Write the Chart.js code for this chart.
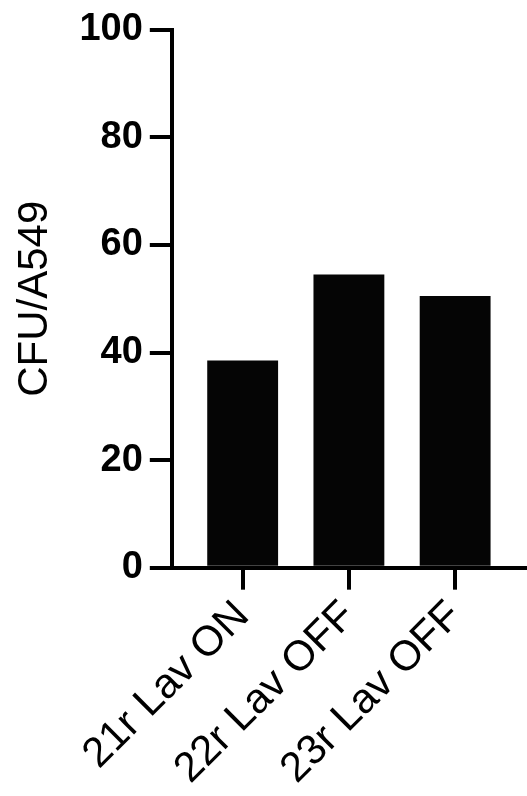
<!DOCTYPE html>
<html>
<head>
<meta charset="utf-8">
<script src="https://cdn.jsdelivr.net/npm/chart.js@4"></script>
<style>
  html, body { margin: 0; padding: 0; background: #fff; }
  #wrap { width: 527px; height: 796px; }
</style>
</head>
<body>
<div id="wrap"><canvas id="myChart"></canvas></div>
<script>
// datos
const categorias = ["21r Lav ON", "22r Lav OFF", "23r Lav OFF"];
const valores = [38.5, 54.5, 50.5];
const yTicks = [0, 20, 40, 60, 80, 100];
const yTitulo = "CFU/A549";

const puntos = valores.map((v, i) => ({ x: i, y: v }));
const fuente = "'Liberation Sans', Arial, Helvetica, sans-serif";

new Chart(document.getElementById("myChart"), {
  type: "bar",
  data: {
    datasets: [
      {
        data: puntos,
        backgroundColor: "#050505",
        borderWidth: 0,
        barPercentage: 0.667,
        categoryPercentage: 1,
      },
    ],
  },
  options: {
    responsive: true,
    maintainAspectRatio: false,
    animation: false,
    layout: { padding: { top: 7, left: 10, right: 1, bottom: 0 } },
    plugins: { legend: { display: false }, tooltip: { enabled: false } },
    scales: {
      x: {
        type: "linear",
        min: -0.667,
        max: 2.667,
        offset: false,
        afterBuildTicks: (axis) => {
          axis.ticks = categorias.map((c, i) => ({ value: i }));
        },
        border: { display: true, color: "#000", width: 4 },
        grid: { offset: false, drawOnChartArea: false, color: "#000", lineWidth: 4, tickLength: 22 },
        ticks: {
          autoSkip: false,
          minRotation: 45,
          maxRotation: 45,
          padding: 2,
          color: "#000",
          font: { family: fuente, size: 42 },
          callback: (v) => categorias[v],
        },
      },
      y: {
        min: 0,
        max: 100,
        afterBuildTicks: (axis) => {
          axis.ticks = yTicks.map((v) => ({ value: v }));
        },
        border: { display: true, color: "#000", width: 4 },
        grid: { drawOnChartArea: false, color: "#000", lineWidth: 4, tickLength: 22 },
        ticks: {
          padding: 7,
          color: "#000",
          font: { family: fuente, size: 38, weight: "bold" },
        },
        title: {
          display: true,
          text: yTitulo,
          color: "#000",
          padding: { top: 0, bottom: 12 },
          font: { family: fuente, size: 42, lineHeight: 1.2 },
        },
      },
    },
  },
});
</script>
</body>
</html>
